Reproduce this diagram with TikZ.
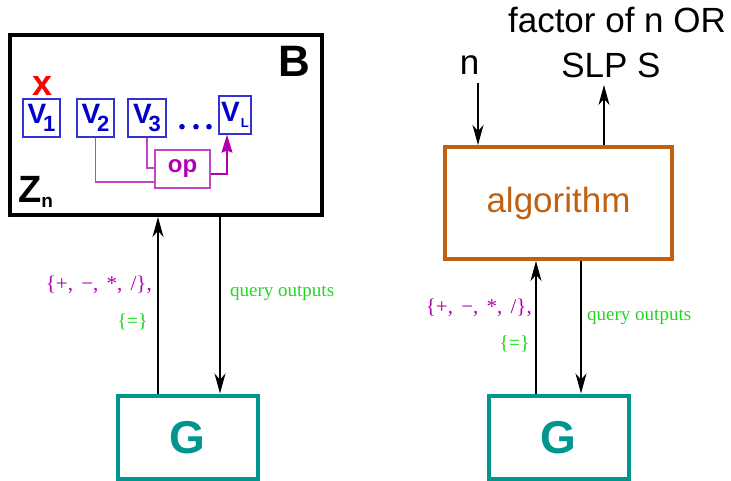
\documentclass[tikz,border=0pt]{standalone}
\usepackage{fontspec}
\setmainfont{Liberation Sans}
\newfontfamily\seriffam{Liberation Serif}
\usetikzlibrary{arrows.meta}
\definecolor{vblue}{RGB}{0,0,205}
\definecolor{vbluel}{RGB}{50,50,215}
\definecolor{opmag}{RGB}{176,0,176}
\definecolor{opmagl}{RGB}{196,70,196}
\definecolor{gteal}{RGB}{0,150,143}
\definecolor{algor}{RGB}{192,96,16}
\definecolor{qgreen}{RGB}{34,214,34}
\begin{document}
\begin{tikzpicture}[x=1pt,y=-1pt,
  bigbox/.style={draw, line width=4pt, inner sep=0pt, rectangle},
  vbox/.style={draw=vbluel, line width=1.3pt, text=vblue, inner sep=0pt,
    minimum height=38pt, font=\fontsize{28}{28}\selectfont\bfseries},
  gbox/.style={bigbox, draw=gteal, text=gteal, minimum width=139.5pt, minimum height=83.5pt,
    font=\fontsize{46}{46}\selectfont\bfseries},
  arr/.style={-{Stealth[length=20pt,width=11pt,inset=6pt]}, line width=1.2pt, black},
  mline/.style={draw=opmagl, line width=1.3pt},
  bigtxt/.style={inner sep=0pt, anchor=base, font=\fontsize{35}{35}\selectfont},
  oplab/.style={inner sep=0pt, anchor=base east, text=opmag, font=\seriffam\fontsize{21}{21}\selectfont},
  eqlab/.style={inner sep=0pt, anchor=base east, text=qgreen, font=\seriffam\fontsize{20}{20}\selectfont},
  qlab/.style={inner sep=0pt, anchor=base west, text=qgreen, font=\seriffam\fontsize{19}{19}\selectfont},
]
\useasboundingbox (0,0) rectangle (731,481);

% ---------- left part ----------
\node[bigbox, minimum width=312.5pt, minimum height=180pt] (B) at (165.75,125) {};
\node[inner sep=0pt, anchor=base, font=\fontsize{44}{44}\selectfont\bfseries] (Blab) at (294,77) {B};
\node[inner sep=0pt, anchor=base west, font=\fontsize{38}{38}\selectfont\bfseries] (Z) at (18,203)
  {Z\raisebox{-5pt}{\fontsize{19}{19}\selectfont n}};
\node[inner sep=0pt, anchor=base, text=red, font=\fontsize{36}{36}\selectfont\bfseries] (x) at (42.5,96) {x};

\node[vbox, minimum width=37pt] (V1) at (41.5,118)
  {V\kern-3pt\raisebox{-8pt}{\fontsize{22}{22}\selectfont 1}};
\node[vbox, minimum width=37pt] (V2) at (95.5,118)
  {V\kern-3pt\raisebox{-8pt}{\fontsize{22}{22}\selectfont 2}};
\node[vbox, minimum width=38pt] (V3) at (147,118)
  {V\kern-3pt\raisebox{-8pt}{\fontsize{22}{22}\selectfont 3}};
\node[vbox, minimum width=32pt] (VL) at (235,115)
  {V\kern1pt\raisebox{-6pt}{\fontsize{13}{13}\selectfont L}};
\fill[vblue] (182,126.7) circle[radius=2.8pt] (196,126.7) circle[radius=2.8pt] (209,126.7) circle[radius=2.8pt];

\node[draw=opmagl, line width=1.3pt, text=opmag, inner sep=0pt, minimum width=55pt, minimum height=38pt,
  font=\fontsize{24}{24}\selectfont\bfseries] (op) at (182.5,169) {op};
\draw[mline] (V2.south) |- (op.west |- 0,182);
\draw[mline] (V3.south) |- (op.west |- 0,168);
\draw[mline, -{Stealth[length=18pt,width=11pt,inset=2pt]}, opmag] (op.east |- 0,174) -| (227,0 |- VL.south);

\node[gbox] (Gl) at (187.75,437.25) {G};
\draw[arr] (Gl.north -| 158,0) -- (B.south -| 158,0);
\draw[arr] (B.south -| 220,0) -- (Gl.north -| 220,0);
\node[oplab] (opsl) at (152,290) {\{+,\hspace{3pt} −,\hspace{3pt} *,\hspace{3pt} /\},};
\node[eqlab] (eql) at (148,327) {\{=\}};
\node[qlab] (ql) at (230,296) {query outputs};

% ---------- right part ----------
\node[bigbox, draw=algor, text=algor, minimum width=227pt, minimum height=112pt,
  font=\fontsize{35}{35}\selectfont] (alg) at (558.5,203) {algorithm};
\node[bigtxt] (n) at (469.5,75) {n};
\node[bigtxt] (fac) at (617,33) {factor of n OR};
\node[bigtxt] (slp) at (611,78) {SLP S};
\coordinate (nstart) at (478,83);
\coordinate (outend) at (604,85);
\draw[arr] (nstart) -- (alg.north -| nstart);
\draw[arr] (alg.north -| outend) -- (outend);

\node[gbox] (Gr) at (558.75,437.25) {G};
\draw[arr] (Gr.north -| 536,0) -- (alg.south -| 536,0);
\draw[arr] (alg.south -| 581,0) -- (Gr.north -| 581,0);
\node[oplab] (opsr) at (532,313) {\{+,\hspace{3pt} −,\hspace{3pt} *,\hspace{3pt} /\},};
\node[eqlab] (eqr) at (530,349) {\{=\}};
\node[qlab] (qr) at (587,320) {query outputs};
\end{tikzpicture}
\end{document}
